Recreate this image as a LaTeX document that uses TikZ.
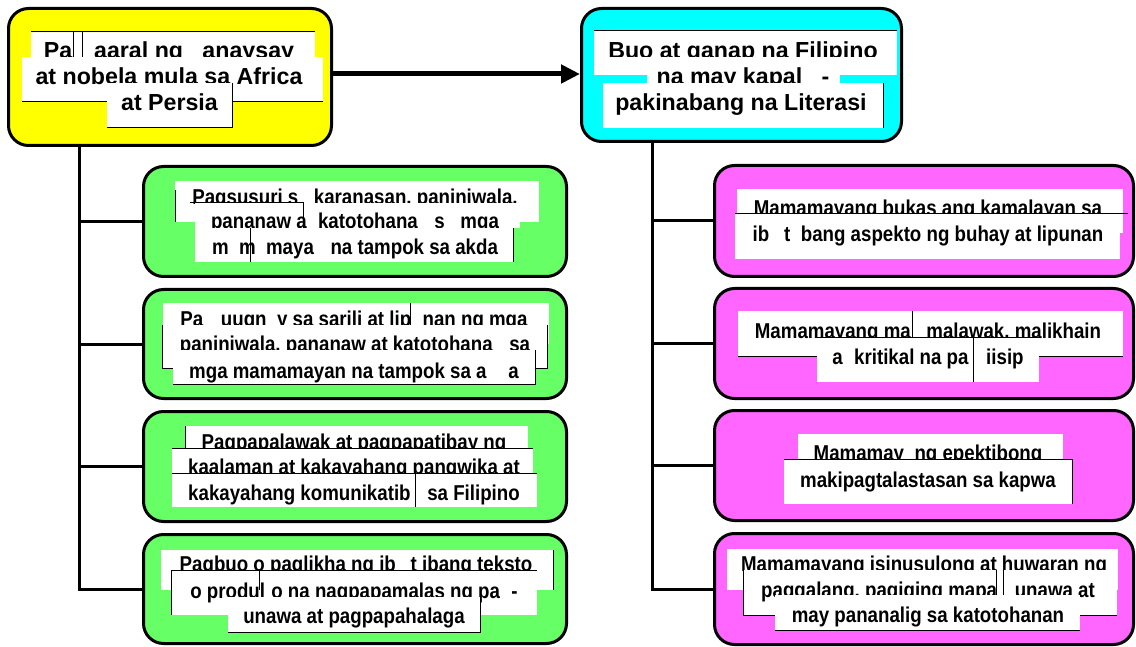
\documentclass[tikz,border=0pt]{standalone}
\usepackage{fontspec}
\setmainfont{Liberation Sans}
\newfontfamily\chfont{Liberation Sans}[FakeStretch=0.87]
\usetikzlibrary{arrows.meta}
\definecolor{cyel}{HTML}{FFFF00}
\definecolor{ccya}{HTML}{00FFFF}
\definecolor{cgrn}{HTML}{66FF66}
\definecolor{cpnk}{HTML}{FF66FF}
\tikzset{
  mbox/.style={draw=black, line width=3pt, rounded corners=20pt, inner sep=0pt},
  conn/.style={draw=black, line width=3pt},
  edge/.style={draw=black, line width=1pt},
  txt/.style={font=\chfont\fontsize{21.5}{24}\selectfont\bfseries, inner sep=0pt, anchor=base},
  ttxt/.style={font=\fontsize{23.2}{26}\selectfont\bfseries, inner sep=0pt, anchor=base},
}
\newcommand\wstrip[8]{\fill[white] (#2,#3) rectangle (#4,#5);\node[txt] (#1) at (#6,#7) {#8};}
\newcommand\tstrip[8]{\fill[white] (#2,#3) rectangle (#4,#5);\node[ttxt] (#1) at (#6,#7) {#8};}
\begin{document}
\begin{tikzpicture}[x=1pt,y=-1pt]
\useasboundingbox (0,0) rectangle (1136,647);
% main boxes
\node[mbox, fill=cyel, minimum width=323pt, minimum height=137pt] (T1) at (170,77) {};
\node[mbox, fill=ccya, minimum width=320pt, minimum height=133pt] (T2) at (741.5,75) {};
\node[mbox, fill=cgrn, minimum width=423pt, minimum height=110pt] (G1) at (355,221.5) {};
\node[mbox, fill=cgrn, minimum width=423pt, minimum height=109pt] (G2) at (355,344) {};
\node[mbox, fill=cgrn, minimum width=423pt, minimum height=110pt] (G3) at (355,466.5) {};
\node[mbox, fill=cgrn, minimum width=423pt, minimum height=109pt] (G4) at (355,589) {};
\node[mbox, fill=cpnk, minimum width=419pt, minimum height=111pt] (P1) at (924,221) {};
\node[mbox, fill=cpnk, minimum width=419pt, minimum height=110pt] (P2) at (924,343.5) {};
\node[mbox, fill=cpnk, minimum width=419pt, minimum height=110pt] (P3) at (924,465.5) {};
\node[mbox, fill=cpnk, minimum width=419pt, minimum height=111pt] (P4) at (924,589) {};
% connectors
\coordinate (lx) at (79,0);
\coordinate (rx) at (652,0);
\coordinate (ay) at (0,74);
\draw[conn] (T1.south -| lx) |- (G4.west);
\foreach \g in {G1,G2,G3} \draw[conn] (lx |- \g.west) -- (\g.west);
\draw[conn] (T2.south -| rx) |- (P4.west);
\foreach \g in {P1,P2,P3} \draw[conn] (rx |- \g.west) -- (\g.west);
\draw[line width=5pt, -{Triangle[length=19pt,width=18pt]}] (T1.east |- ay) -- (T2.west |- ay);
% ---- yellow title
\tstrip{t1a}{31}{32}{315}{57}{169}{59}{Pa\phantom{g-}aaral ng \phantom{s}anaysay}
\draw[edge] (31,32) -- (315,32); \draw[edge] (73,32) -- (73,57); \draw[edge] (82,32) -- (82,57);
\tstrip{t1b}{22}{57}{323}{102}{169}{84.5}{at nobela mula sa Africa}
\draw[edge] (22,102) -- (323,102);
\tstrip{t1c}{107}{83}{232}{128}{169.5}{110.5}{at Persia}
\draw[edge] (232,83) -- (232,128) -- (107,128);
% ---- cyan title
\tstrip{t2a}{594}{31}{897}{75}{743}{58.5}{Buo at ganap na Filipino}
\draw[edge] (594,31) -- (897,31);
\fill[white] (594,57) rectangle (897,75);
\tstrip{t2b}{647}{57}{840}{100}{743}{84.5}{na may kapal\phantom{ki}-}
\tstrip{t2c}{603}{83}{883}{128}{741}{110.5}{pakinabang na Literasi}
\draw[edge] (883,83) -- (883,128);
% ---- G1
\wstrip{g1a}{175}{181}{539}{222}{355}{204.5}{Pagsusuri s\phantom{a} karanasan, paniniwala,}
\draw[edge] (175,190) -- (175,222);
\wstrip{g1b}{195}{203}{520}{228}{355}{229}{pananaw a\phantom{t} katotohana\phantom{n} s\phantom{a} mga}
\draw[edge] (190,203) -- (303,203) -- (303,228);
\wstrip{g1c}{195}{228}{513}{262}{355}{255}{m\phantom{a}m\phantom{a}maya\phantom{n} na tampok sa akda}
\draw[edge] (250,228) -- (250,262); \draw[edge] (513,228) -- (513,262);
% ---- G2
\wstrip{g2a}{163}{303}{549}{344}{354}{326.5}{Pa\phantom{g-}uugn\phantom{a}y sa sarili at lip\phantom{u}nan ng mga}
\draw[edge] (410,303) -- (410,325);
\wstrip{g2b}{162}{325}{547}{368}{355}{351}{paniniwala, pananaw at katotohana\phantom{n} sa}
\draw[edge] (173,368) -- (162,368) -- (162,325); \draw[edge] (547,325) -- (547,368) -- (535,368);
\wstrip{g2c}{173}{350}{535}{384}{354}{378}{mga mamamayan na tampok sa a\phantom{kd}a}
\draw[edge] (535,350) -- (535,384) -- (173,384);
% ---- G3
\wstrip{g3a}{185}{426}{528}{448}{354}{449.5}{Pagpapalawak at pagpapatibay ng}
\draw[edge] (185,426) -- (185,448);
\wstrip{g3b}{172}{448}{533}{473}{354}{474.5}{kaalaman at kakayahang pangwika at}
\draw[edge] (172,448) -- (533,448);
\wstrip{g3c}{172}{473}{537}{507}{354}{500}{kakayahang komunikatib\phantom{o} sa Filipino}
\draw[edge] (172,473) -- (537,473); \draw[edge] (415,473) -- (415,507);
% ---- G4
\wstrip{g4a}{161}{550}{553}{590}{356}{571.5}{Pagbuo o paglikha ng ib\phantom{a'}t ibang teksto}
\draw[edge] (553,550) -- (553,590);
\wstrip{g4b}{171}{570}{537}{615}{354}{598}{o produl\phantom{t}o na nagpapamalas ng pa\phantom{g}-}
\draw[edge] (537,570) -- (171,570) -- (171,615); \draw[edge] (259,570) -- (259,590);
\wstrip{g4c}{228}{597}{480}{632}{354}{623}{unawa at pagpapahalaga}
\draw[edge] (480,597) -- (480,632) -- (228,632);
% ---- P1
\wstrip{p1a}{737}{189}{1123}{233}{928}{215.5}{Mamamayang bukas ang kamalayan sa}
\wstrip{p1b}{735}{214}{1120}{259}{928}{242}{ib\phantom{a'}t\phantom{ i}bang aspekto ng buhay at lipunan}
\draw[edge] (735,214) -- (1128,214);
% ---- P2
\wstrip{p2a}{738}{311}{1123}{356}{928}{338.5}{Mamamayang ma\phantom{y} malawak, malikhain}
\draw[edge] (738,356) -- (1123,356); \draw[edge] (912,311) -- (912,337);
\wstrip{p2b}{817}{337}{1039}{382}{928}{364}{a\phantom{t} kritikal na pa\phantom{g-}iisip}
\draw[edge] (817,337) -- (1039,337); \draw[edge] (973,337) -- (973,382);
% ---- P3
\wstrip{p3a}{798}{434}{1063}{459}{928}{460}{Mamamay\phantom{a}ng epektibong}
\wstrip{p3b}{784}{459}{1072}{504}{928}{487.5}{makipagtalastasan sa kapwa}
\draw[edge] (784,459) -- (1072,459) -- (1072,504);
% ---- P4
\wstrip{p4a}{727}{549}{1118}{590}{924}{571.5}{Mamamayang isinusulong at huwaran ng}
\wstrip{p4b}{743}{570}{1117}{615}{928}{597}{paggalang, pagiging mapa\phantom{g-}unawa at}
\draw[edge] (743,570) -- (743,615) -- (775,615); \draw[edge] (1080,615) -- (1117,615);
\draw[edge] (996,570) -- (996,595); \draw[edge] (1003,570) -- (1003,595);
\wstrip{p4c}{775}{595}{1080}{630}{928}{622}{may pananalig sa katotohanan}
\draw[edge] (775,630) -- (1080,630);
\end{tikzpicture}
\end{document}
